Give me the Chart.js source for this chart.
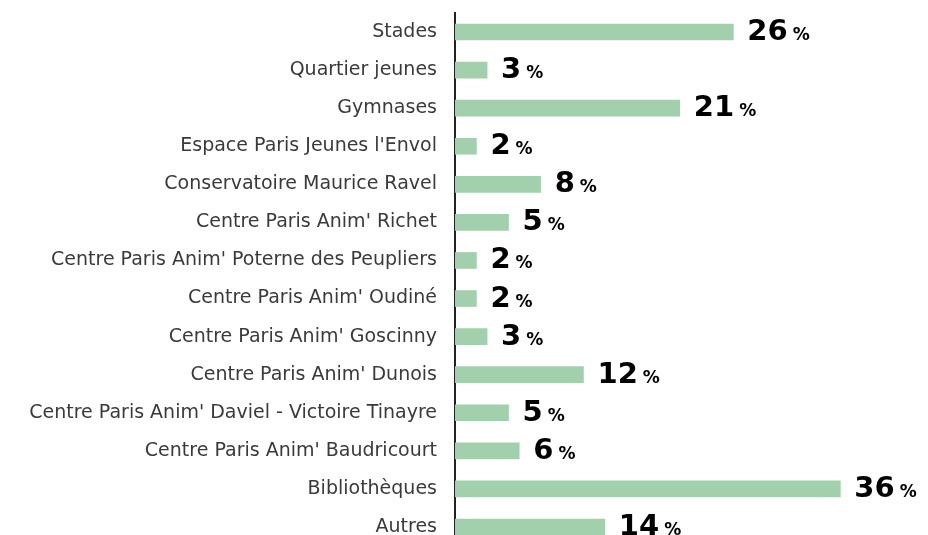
<!DOCTYPE html>
<html>
<head>
<meta charset="utf-8">
<script src="https://cdn.jsdelivr.net/npm/chart.js@4/dist/chart.umd.min.js"></script>
<style>
    html, body { margin: 0; padding: 0; background: #fff; overflow: hidden; }
    canvas { display: block; }
</style>
</head>
<body>
<canvas id="chart" width="928" height="550"></canvas>
<script>
// Données
const categories = [
    'Stades',
    'Quartier jeunes',
    'Gymnases',
    "Espace Paris Jeunes l'Envol",
    'Conservatoire Maurice Ravel',
    "Centre Paris Anim' Richet",
    "Centre Paris Anim' Poterne des Peupliers",
    "Centre Paris Anim' Oudiné",
    "Centre Paris Anim' Goscinny",
    "Centre Paris Anim' Dunois",
    "Centre Paris Anim' Daviel - Victoire Tinayre",
    "Centre Paris Anim' Baudricourt",
    'Bibliothèques',
    'Autres'
];
const values = [26, 3, 21, 2, 8, 5, 2, 2, 3, 12, 5, 6, 36, 14];

const BAR_COLOR = '#a2d0ad';
const FONT = '"DejaVu Sans", sans-serif';

// Étiquettes de valeur : gros chiffre + petit %
const valueLabels = {
    id: 'valueLabels',
    afterDatasetsDraw(chart) {
        const ctx = chart.ctx;
        const meta = chart.getDatasetMeta(0);
        ctx.save();
        ctx.fillStyle = '#000';
        ctx.textBaseline = 'alphabetic';
        ctx.textAlign = 'left';
        meta.data.forEach((bar, i) => {
            const x = bar.x + 14;
            const y = bar.y + 8;
            ctx.font = 'bold 29px ' + FONT;
            const txt = String(values[i]);
            ctx.fillText(txt, x, y);
            const w = ctx.measureText(txt).width;
            ctx.font = 'bold 17px ' + FONT;
            ctx.fillText('%', x + w + 5, y);
        });
        ctx.restore();
    }
};

const chart = new Chart(document.getElementById('chart'), {
    type: 'bar',
    data: {
        labels: categories,
        datasets: [{
            data: values,
            backgroundColor: BAR_COLOR,
            borderWidth: 0,
            barThickness: 16
        }]
    },
    options: {
        indexAxis: 'y',
        responsive: false,
        animation: false,
        layout: { padding: { top: 13, right: 2, bottom: 4, left: 0 } },
        plugins: {
            legend: { display: false },
            tooltip: { enabled: false }
        },
        scales: {
            x: {
                min: 0,
                max: 44,
                display: false,
                grid: { display: false }
            },
            y: {
                afterFit(scale) {
                    scale.width = 455;
                    scale.paddingTop = 0;
                    scale.paddingBottom = 0;
                },
                grid: { display: false, drawTicks: false },
                border: { display: true, color: '#222', width: 2 },
                ticks: {
                    color: '#3a3a3a',
                    padding: 18,
                    font: { family: FONT, size: 19 }
                }
            }
        }
    },
    plugins: [valueLabels]
});
</script>
</body>
</html>
